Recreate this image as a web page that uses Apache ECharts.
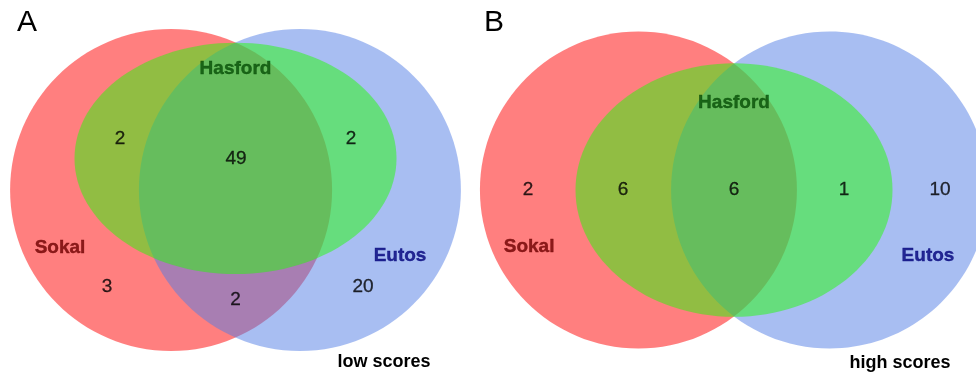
<!DOCTYPE html>
<html>
<head>
<meta charset="utf-8">
<title>Sokal / Hasford / Eutos risk score overlap</title>
<script src="https://cdn.jsdelivr.net/npm/echarts@6/dist/echarts.min.js"></script>
<style>
  html, body { margin: 0; padding: 0; background: #fff; }
  #chart { width: 976px; height: 375px; }
</style>
</head>
<body>
<div id="chart"></div>
<script>
// ---- data ----------------------------------------------------------------
const setNames = ['Sokal', 'Hasford', 'Eutos'];

// Panel A (low scores): region order = Sokal only, Sokal∩Hasford, all three,
// Hasford∩Eutos, Eutos only, Sokal∩Eutos
const lowRegions = ['Sokal only', 'Sokal & Hasford', 'Sokal & Hasford & Eutos', 'Hasford & Eutos', 'Eutos only', 'Sokal & Eutos'];
const lowCounts = [3, 2, 49, 2, 20, 2];

// Panel B (high scores): Sokal only, Sokal∩Hasford, all three, Hasford∩Eutos, Eutos only
const highRegions = ['Sokal only', 'Sokal & Hasford', 'Sokal & Hasford & Eutos', 'Hasford & Eutos', 'Eutos only'];
const highCounts = [2, 6, 6, 1, 10];

const panelLetters = ['A', 'B'];
const panelCaptions = ['low scores', 'high scores'];

// ---- layout (panel units: circle radius = 1) -----------------------------
const setColors = { Sokal: 'rgba(255,0,0,0.5)', Hasford: 'rgba(36,252,8,0.5)', Eutos: 'rgba(81,125,229,0.5)' };
const setLabelColors = { Sokal: '#6e0000', Hasford: '#064d06', Eutos: '#00007a' };
// paint order: the two circles first, the Hasford ellipse on top
const drawOrder = ['Sokal', 'Eutos', 'Hasford'];

const layoutA = {
  shapes: { Sokal: [-0.40, 0, 1, 1], Hasford: [0, 0.196, 1.0, 0.718], Eutos: [0.40, 0, 1, 1] },
  regionPos: {
    'Sokal only': [-0.798, -0.602], 'Sokal & Hasford': [-0.717, 0.317],
    'Sokal & Hasford & Eutos': [0.003, 0.193], 'Hasford & Eutos': [0.717, 0.317],
    'Eutos only': [0.792, -0.602], 'Sokal & Eutos': [0, -0.683]
  },
  namePos: { Sokal: [-1.09, -0.36], Hasford: [0, 0.752], Eutos: [1.022, -0.41] }
};
const layoutB = {
  shapes: { Sokal: [-0.603, 0, 1, 1], Hasford: [0, 0, 1.0, 0.80], Eutos: [0.603, 0, 1, 1] },
  regionPos: {
    'Sokal only': [-1.30, 0], 'Sokal & Hasford': [-0.70, 0],
    'Sokal & Hasford & Eutos': [0, 0], 'Hasford & Eutos': [0.694, 0],
    'Eutos only': [1.30, 0]
  },
  namePos: { Sokal: [-1.293, -0.36], Hasford: [0, 0.549], Eutos: [1.224, -0.416] }
};

const FONT = '"Liberation Sans", Arial, Helvetica, sans-serif';

function shapeSeries(layout, idx) {
  return {
    type: 'custom',
    xAxisIndex: idx, yAxisIndex: idx,
    silent: true,
    clip: false,
    z: 1,
    data: drawOrder.map(function (n) { return { name: n, value: layout.shapes[n] }; }),
    renderItem: function (params, api) {
      const c = api.coord([api.value(0), api.value(1)]);
      const s = api.size([api.value(2), api.value(3)]);
      return {
        type: 'ellipse',
        shape: { cx: c[0], cy: c[1], rx: s[0], ry: s[1] },
        style: { fill: setColors[drawOrder[params.dataIndex]] }
      };
    }
  };
}

function countSeries(layout, regions, counts, idx) {
  return {
    type: 'scatter',
    xAxisIndex: idx, yAxisIndex: idx,
    silent: true,
    symbolSize: 0,
    z: 5,
    data: regions.map(function (r, i) { return layout.regionPos[r].concat([counts[i]]); }),
    label: {
      show: true, position: 'inside',
      formatter: function (p) { return String(p.value[2]); },
      color: '#000', fontFamily: FONT, fontSize: 19, fontWeight: 'normal',
      textBorderColor: '#000', textBorderWidth: 0.3
    }
  };
}

function nameSeries(layout, idx) {
  return {
    type: 'scatter',
    xAxisIndex: idx, yAxisIndex: idx,
    silent: true,
    symbolSize: 0,
    z: 5,
    data: setNames.map(function (n) {
      return {
        value: layout.namePos[n],
        name: n,
        label: { color: setLabelColors[n], textBorderColor: setLabelColors[n] }
      };
    }),
    label: {
      show: true, position: 'inside',
      formatter: '{b}',
      fontFamily: FONT, fontSize: 19, fontWeight: 'bold',
      textBorderWidth: 0.4
    }
  };
}

function hiddenAxis(min, max, idx) {
  return { type: 'value', min: min, max: max, gridIndex: idx, show: false };
}

const chart = echarts.init(document.getElementById('chart'), null, { renderer: 'canvas' });
chart.setOption({
  animation: false,
  backgroundColor: '#ffffff',
  grid: [
    { left: 10.1, top: 12.9, width: 450.8, height: 354.2 },
    { left: 480.4, top: 15.65, width: 491.35, height: 348.7 }
  ],
  xAxis: [hiddenAxis(-1.4, 1.4, 0), hiddenAxis(-1.6, 1.5, 1)],
  yAxis: [hiddenAxis(-1.1, 1.1, 0), hiddenAxis(-1.1, 1.1, 1)],
  graphic: [
    { type: 'text', x: 27, y: 23, style: { text: panelLetters[0], font: '30px ' + FONT, fill: '#000', textAlign: 'center', textVerticalAlign: 'middle' } },
    { type: 'text', x: 494, y: 23, style: { text: panelLetters[1], font: '30px ' + FONT, fill: '#000', textAlign: 'center', textVerticalAlign: 'middle' } },
    { type: 'text', x: 384, y: 362, style: { text: panelCaptions[0], font: 'bold 18px ' + FONT, fill: '#000', textAlign: 'center', textVerticalAlign: 'middle' } },
    { type: 'text', x: 900, y: 363, style: { text: panelCaptions[1], font: 'bold 18px ' + FONT, fill: '#000', textAlign: 'center', textVerticalAlign: 'middle' } }
  ],
  series: [
    shapeSeries(layoutA, 0),
    countSeries(layoutA, lowRegions, lowCounts, 0),
    nameSeries(layoutA, 0),
    shapeSeries(layoutB, 1),
    countSeries(layoutB, highRegions, highCounts, 1),
    nameSeries(layoutB, 1)
  ]
});
</script>
</body>
</html>
